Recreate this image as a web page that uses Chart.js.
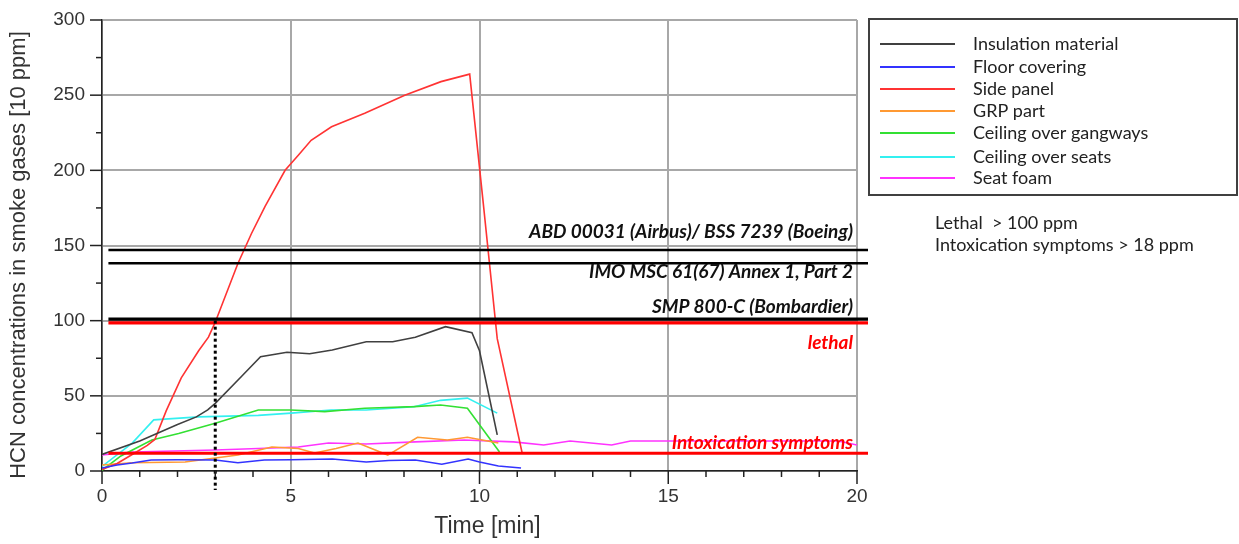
<!DOCTYPE html>
<html><head><meta charset="utf-8">
<script src="https://cdn.jsdelivr.net/npm/chart.js@4/dist/chart.umd.min.js"></script>
<style>html,body{margin:0;padding:0;background:#fff;}#wrap{width:1239px;height:544px;position:relative;}</style>
</head><body><div id="wrap"><canvas id="c" width="1239" height="544"></canvas></div>
<script>
// ---- data (time in min, HCN in 10 ppm) ----
const seriesNames = ["Insulation material","Floor covering","Side panel","GRP part","Ceiling over gangways","Ceiling over seats","Seat foam"];
const insulationT = [0, 1.0, 2.0, 2.5, 2.8, 3.0, 3.7, 4.2, 4.9, 5.5, 6.1, 7.0, 7.7, 8.3, 9.1, 9.8, 10.0, 10.47];
const insulationV = [11, 20, 31, 36, 40.6, 45, 63, 76, 79, 78, 80.5, 86, 86, 89, 96, 92, 80, 24];
const floorT = [0, 0.4, 0.8, 1.3, 2.0, 3.0, 3.6, 4.3, 5.0, 6.1, 7.0, 7.6, 8.3, 9.0, 9.7, 10.0, 10.5, 11.1];
const floorV = [2, 4, 5.3, 7.3, 7.5, 7.3, 5.5, 7.3, 7.5, 8, 6, 7, 7.3, 4.5, 8, 6, 3.3, 2];
const sideT = [0, 0.4, 0.8, 1.2, 1.4, 1.7, 2.1, 2.56, 2.82, 3.0, 3.6, 3.96, 4.32, 4.85, 5.2, 5.54, 6.08, 6.96, 8.02, 8.98, 9.74, 10.1, 10.47, 11.13];
const sideV = [1, 5, 11, 17, 21, 40, 62, 80, 89, 99, 138, 158, 176, 200, 210, 220, 229, 238, 250, 259, 264, 178, 88, 12];
const grpT = [0, 0.8, 2.2, 3.0, 3.6, 4.5, 5.2, 5.63, 6.2, 6.78, 7.57, 8.36, 9.15, 9.68, 10.5];
const grpV = [4, 5.5, 6, 8.6, 10.6, 16, 15, 12, 15, 18.6, 10.6, 22.4, 20.6, 22.4, 18.6];
const gangT = [0, 0.5, 1.32, 2.03, 3.0, 4.14, 5.0, 5.9, 6.96, 8.27, 8.97, 9.68, 10.53];
const gangV = [0.5, 10, 20.6, 25, 31.8, 40.6, 40.6, 39.5, 41.7, 42.8, 43.9, 41.7, 12.6];
const seatsT = [0, 0.8, 1.37, 2.56, 4.14, 5.01, 6.07, 7.0, 8.27, 8.97, 9.68, 10.47];
const seatsV = [3, 18.6, 34, 36, 37, 38.5, 40.6, 40.6, 42.8, 47, 48.5, 38.5];
const foamT = [0, 0.8, 3.0, 4.14, 5.2, 6.0, 7.0, 8.3, 9.6, 10.9, 11.7, 12.4, 13.5, 14.0, 15, 17, 19.5, 20];
const foamV = [10.6, 12.6, 14, 15, 16, 18.6, 18, 19.4, 20.6, 19.4, 17.3, 20, 17.3, 20, 20, 20, 20, 17.3];
const seriesColors = ["#404040","#3333ff","#ff3333","#ff9933","#33e033","#33f0f0","#ff33ff"];

// reference limit lines and labels
const limitValues = [147, 138.2, 101, 98.5, 11.8];
const limitColors = ["#000","#000","#000","#ff0000","#ff0000"];
const limitLabels = ["ABD 00031 (Airbus)/ BSS 7239 (Boeing)","IMO MSC 61(67) Annex 1, Part 2","SMP 800-C (Bombardier)","lethal","Intoxication symptoms"];
const limitLabelValues = [159, 132.4, 109, 85, 18.6];
const limitLabelColors = ["#111","#111","#111","#ff0000","#ff0000"];
const markerTime = 3;
const noteLines = ["Lethal  > 100 ppm","Intoxication symptoms > 18 ppm"];
const xTitle = "Time [min]";
const yTitle = "HCN concentrations in smoke gases [10 ppm]";

const xTicks = {min:0, max:20, step:1, major:5};
const yTicks = {min:0, max:300, step:25, major:50};

function pts(t, v){ return t.map((x,i)=>({x:x, y:v[i]})); }
const allData = [pts(insulationT,insulationV), pts(floorT,floorV), pts(sideT,sideV), pts(grpT,grpV), pts(gangT,gangV), pts(seatsT,seatsV), pts(foamT,foamV)];

const annot = {
  id:'annot',
  afterDatasetsDraw(chart){
    const ctx = chart.ctx, xs = chart.scales.x, ys = chart.scales.y, ca = chart.chartArea;
    ctx.save();
    const x0 = xs.getPixelForValue(0.17), x1 = ca.right + 11;
    limitValues.forEach((v,i)=>{
      const y = ys.getPixelForValue(v);
      ctx.beginPath(); ctx.strokeStyle = limitColors[i]; ctx.lineWidth = i<2 ? 2.6 : 3.2;
      ctx.moveTo(x0, y); ctx.lineTo(x1, y); ctx.stroke();
    });
    const xm = xs.getPixelForValue(markerTime);
    ctx.beginPath(); ctx.setLineDash([3,3]); ctx.strokeStyle = "#000"; ctx.lineWidth = 3;
    ctx.moveTo(xm, ys.getPixelForValue(100)); ctx.lineTo(xm, ca.bottom + 19); ctx.stroke();
    ctx.setLineDash([]);
    ctx.font = "italic bold 19px Lato";
    ctx.textAlign = "right"; ctx.textBaseline = "middle";
    limitLabels.forEach((s,i)=>{
      ctx.fillStyle = limitLabelColors[i];
      ctx.fillText(s, ca.right - 4, ys.getPixelForValue(limitLabelValues[i]));
    });
    ctx.restore();
  },
  afterDraw(chart){
    const ctx = chart.ctx, xs = chart.scales.x, ys = chart.scales.y, ca = chart.chartArea;
    ctx.save();
    ctx.strokeStyle = "#222"; ctx.lineWidth = 1.5;
    for(let v=xTicks.min; v<=xTicks.max; v+=xTicks.step){
      const x = xs.getPixelForValue(v), len = v%xTicks.major===0 ? 13 : 6;
      ctx.beginPath(); ctx.moveTo(x, ca.bottom); ctx.lineTo(x, ca.bottom+len); ctx.stroke();
    }
    for(let v=yTicks.min; v<=yTicks.max; v+=yTicks.step){
      const y = ys.getPixelForValue(v), len = v%yTicks.major===0 ? 12 : 6;
      ctx.beginPath(); ctx.moveTo(ca.left, y); ctx.lineTo(ca.left-len, y); ctx.stroke();
    }
    // axis titles
    ctx.fillStyle = "#333"; ctx.textAlign = "center"; ctx.textBaseline = "middle";
    ctx.font = "23px 'Liberation Sans'";
    ctx.fillText(xTitle, 487.5, 527);
    ctx.save(); ctx.translate(19, 255); ctx.rotate(-Math.PI/2);
    ctx.font = "22px 'Liberation Sans'"; ctx.fillText(yTitle, 0, 0); ctx.restore();
    // legend
    const lx = 869, ly = 19, lw = 368, lh = 176;
    ctx.strokeStyle = "#404040"; ctx.lineWidth = 2;
    ctx.strokeRect(lx, ly, lw, lh);
    const rows = [44, 67, 89, 111, 133, 157, 178];
    ctx.font = "18px Lato"; ctx.textAlign = "left"; ctx.textBaseline = "middle";
    chart.data.datasets.forEach((ds,i)=>{
      ctx.beginPath(); ctx.strokeStyle = ds.borderColor; ctx.lineWidth = 2;
      ctx.moveTo(880, rows[i]); ctx.lineTo(955, rows[i]); ctx.stroke();
      ctx.fillStyle = "#222"; ctx.fillText(ds.label, 973, rows[i]);
    });
    ctx.font = "18px Lato"; ctx.fillStyle = "#222";
    ctx.fillText(noteLines[0], 935, 223);
    ctx.fillText(noteLines[1], 935, 245);
    ctx.restore();
  }
};

new Chart(document.getElementById('c'), {
  type:'line',
  data:{ datasets: allData.map((d,i)=>({label:seriesNames[i], data:d, borderColor:seriesColors[i], backgroundColor:seriesColors[i], borderWidth:1.6, pointRadius:0, tension:0, fill:false})) },
  options:{
    responsive:false, animation:false, devicePixelRatio:1,
    layout:{padding:{left:0, top:20, right:382, bottom:0}},
    plugins:{legend:{display:false}, tooltip:{enabled:false}},
    scales:{
      x:{type:'linear', min:xTicks.min, max:xTicks.max,
         afterFit(s){ s.height = 73; s.paddingLeft = 0; s.paddingRight = 0; },
         ticks:{stepSize:xTicks.step, autoSkip:false, maxRotation:0, padding:14, color:"#333",
                font:{family:"Liberation Sans", size:19},
                callback:(v)=> v%xTicks.major===0 ? String(v) : ''},
         grid:{drawTicks:false, lineWidth:2, color:(c)=> (c.tick && c.tick.value%xTicks.major===0) ? "#a8a8a8" : "rgba(0,0,0,0)"},
         border:{color:"#222", width:1.5}},
      y:{min:yTicks.min, max:yTicks.max,
         afterFit(s){ s.width = 102; s.paddingTop = 0; s.paddingBottom = 0; },
         ticks:{stepSize:yTicks.step, autoSkip:false, padding:17, color:"#333",
                font:{family:"Liberation Sans", size:19},
                callback:(v)=> v%yTicks.major===0 ? String(v) : ''},
         grid:{drawTicks:false, lineWidth:2, color:(c)=> (c.tick && c.tick.value%yTicks.major===0) ? "#a8a8a8" : "rgba(0,0,0,0)"},
         border:{color:"#222", width:1.5}}
    }
  },
  plugins:[annot]
});
</script></body></html>
